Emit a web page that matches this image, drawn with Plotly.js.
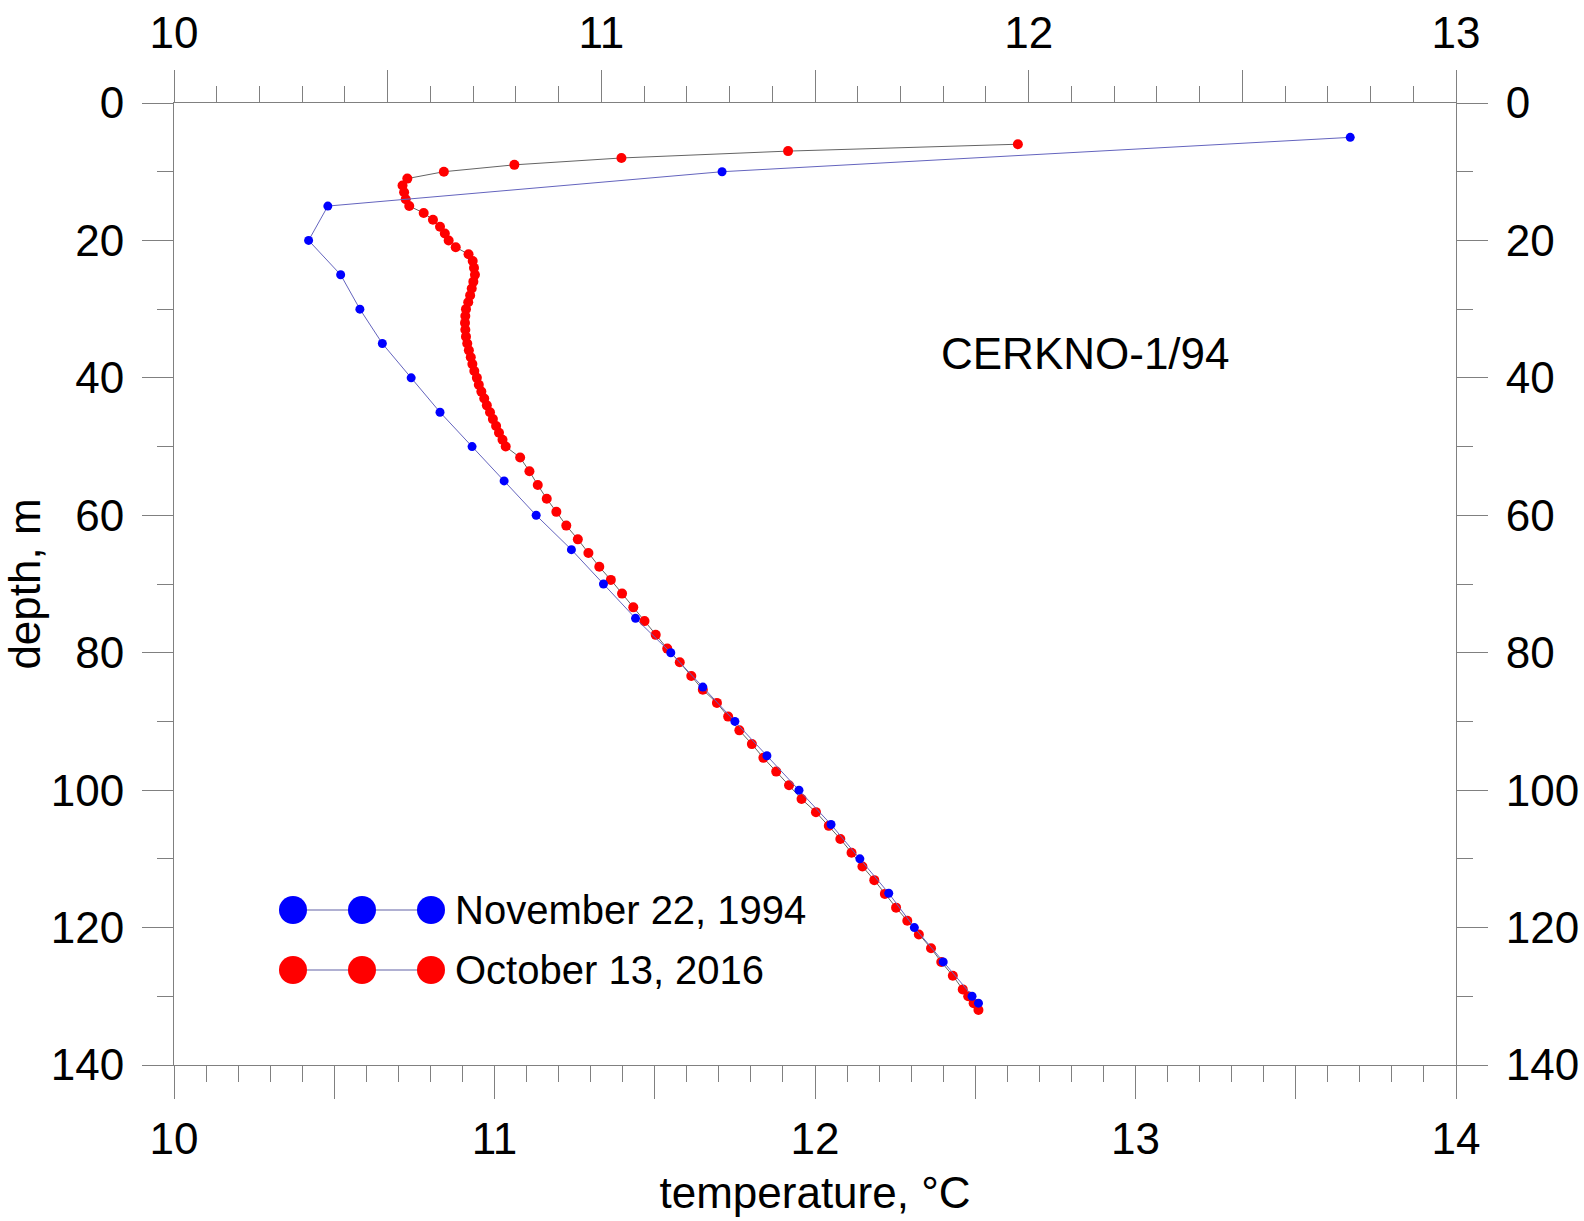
<!DOCTYPE html>
<html>
<head>
<meta charset="utf-8">
<script src="https://cdn.plot.ly/plotly-3.0.1.min.js"></script>
<style>html,body{margin:0;padding:0;background:#fff;}#chart{width:1584px;height:1221px;}</style>
</head>
<body>
<div id="chart"></div>
<script>
// ---- Data: November 22, 1994 ----
const depth1994 = [5,10,15,20,25,30,35,40,45,50,55,60,65,70,75,80,85,90,95,100,105,110,115,120,125,130,131];
const temp1994  = [13.67,11.71,10.48,10.42,10.52,10.58,10.65,10.74,10.83,10.93,11.03,11.13,11.24,11.34,11.44,11.55,11.65,11.75,11.85,11.95,12.05,12.14,12.23,12.31,12.40,12.49,12.51];

// ---- Data: October 13, 2016 ----
const depth2016 = [6,7,8,9,10,11,12,13,14,15,16,17,18,19,20,21,22,23,24,25,26,27,28,29,30,31,32,33,34,35,36,37,38,39,40,41,42,43,44,45,46,47,48,49,50,
  51.6,53.6,55.6,57.6,59.5,61.5,63.5,65.5,67.5,69.4,71.4,73.4,75.4,77.4,79.4,81.4,83.4,85.4,87.3,89.3,91.3,93.3,95.3,97.3,99.3,101.3,103.2,105.2,107.1,109.1,111.1,113.1,115.1,117.1,119,121,123,125,127,129,130,131,132];
const temp2016  = [12.633,11.916,11.396,11.062,10.842,10.728,10.713,10.718,10.723,10.734,10.779,10.808,10.830,10.845,10.857,10.879,10.919,10.932,10.936,10.939,10.934,10.929,10.924,10.918,10.911,10.909,10.908,10.909,10.911,10.915,10.920,10.926,10.931,10.937,10.945,10.951,10.959,10.968,10.976,10.986,10.995,11.005,11.014,11.025,11.035,
  11.080,11.109,11.135,11.163,11.193,11.224,11.260,11.293,11.327,11.363,11.398,11.433,11.468,11.503,11.539,11.578,11.614,11.650,11.694,11.729,11.764,11.803,11.839,11.879,11.919,11.958,12.003,12.043,12.079,12.114,12.148,12.185,12.218,12.253,12.288,12.324,12.362,12.394,12.430,12.461,12.478,12.495,12.510];

// ---- Axis ticks ----
const bottomTickVals = [10,10.5,11,11.5,12,12.5,13,13.5,14];
const bottomTickText = ['10','','11','','12','','13','','14'];
const topTickVals = [10,10.5,11,11.5,12,12.5,13];
const topTickText = ['10','','11','','12','','13'];
const depthTickVals = [0,20,40,60,80,100,120,140];

const seriesNames = ['November 22, 1994','October 13, 2016'];
const stationLabel = 'CERKNO-1/94';

// ---- Layout geometry ----
const W = 1584, H = 1221;
const M = {l:174, r:128, t:103, b:156};
const PW = W - M.l - M.r, PH = H - M.t - M.b;
const px = x => (x - M.l) / PW;
const py = y => 1 - (y - M.t) / PH;

const FONT = '"Liberation Sans", Arial, sans-serif';
const AX = 'rgb(128,128,128)';

const traces = [
  {
    x: temp2016, y: depth2016, name: seriesNames[1], type: 'scatter', mode: 'lines+markers',
    line: {color: 'rgb(100,100,100)', width: 1},
    marker: {color: 'rgb(255,0,0)', size: 10},
    showlegend: false
  },
  {
    x: temp1994, y: depth1994, name: seriesNames[0], type: 'scatter', mode: 'lines+markers',
    line: {color: 'rgb(100,100,190)', width: 1},
    marker: {color: 'rgb(0,0,255)', size: 9},
    showlegend: false
  },
  {
    x: [null], y: [null], xaxis: 'x2', yaxis: 'y2', type: 'scatter', mode: 'markers',
    showlegend: false, hoverinfo: 'skip'
  }
];

const commonAxis = {
  showline: true, linecolor: AX, linewidth: 1,
  showgrid: false, zeroline: false,
  ticks: 'outside', tickcolor: AX, tickwidth: 1,
  tickfont: {family: FONT, size: 44, color: '#000'},
  fixedrange: true
};

// legend drawn as shapes + annotations
const legendRows = [
  {y: 910, color: 'rgb(0,0,255)', text: seriesNames[0]},
  {y: 970, color: 'rgb(255,0,0)', text: seriesNames[1]}
];
const legendXs = [293, 362, 431];
const shapes = [];
const annotations = [];
legendRows.forEach(r => {
  shapes.push({type: 'line', xref: 'paper', yref: 'paper', x0: px(legendXs[0]), x1: px(legendXs[2]), y0: py(r.y), y1: py(r.y),
    line: {color: 'rgb(150,150,195)', width: 1.5}});
  legendXs.forEach(lx => {
    shapes.push({type: 'circle', xref: 'paper', yref: 'paper', xsizemode: 'pixel', ysizemode: 'pixel',
      xanchor: px(lx), yanchor: py(r.y), x0: -14, x1: 14, y0: -14, y1: 14,
      fillcolor: r.color, line: {width: 0}});
  });
  annotations.push({xref: 'paper', yref: 'paper', x: px(453), y: py(r.y), xanchor: 'left', yanchor: 'middle',
    text: r.text, showarrow: false, font: {family: FONT, size: 40, color: '#000'}});
});
annotations.push({xref: 'paper', yref: 'paper', x: px(1085), y: py(354), xanchor: 'center', yanchor: 'middle',
  text: stationLabel, showarrow: false, font: {family: FONT, size: 44, color: '#000'}});

const layout = {
  width: W, height: H,
  margin: M,
  paper_bgcolor: '#fff', plot_bgcolor: '#fff',
  font: {family: FONT, color: '#000'},
  showlegend: false,
  xaxis: Object.assign({}, commonAxis, {
    range: [10, 14], side: 'bottom', anchor: 'y',
    tickmode: 'array', tickvals: bottomTickVals, ticktext: bottomTickText,
    ticklen: 33, ticklabelstandoff: 2,
    minor: {tickmode: 'linear', tick0: 10, dtick: 0.1, ticks: 'outside', ticklen: 16, tickcolor: AX, tickwidth: 1, showgrid: false},
    title: {text: 'temperature, °C', font: {family: FONT, size: 44, color: '#000'}, standoff: 15}
  }),
  xaxis2: Object.assign({}, commonAxis, {
    range: [10, 13], side: 'top', overlaying: 'x', anchor: 'y',
    tickmode: 'array', tickvals: topTickVals, ticktext: topTickText,
    ticklen: 32, ticklabelstandoff: 4,
    minor: {tickmode: 'linear', tick0: 10, dtick: 0.1, ticks: 'outside', ticklen: 16, tickcolor: AX, tickwidth: 1, showgrid: false}
  }),
  yaxis: Object.assign({}, commonAxis, {
    range: [140, 0], side: 'left', anchor: 'x',
    tickmode: 'array', tickvals: depthTickVals,
    ticklen: 31, ticklabelstandoff: 9,
    minor: {tickmode: 'linear', tick0: 0, dtick: 10, ticks: 'outside', ticklen: 16, tickcolor: AX, tickwidth: 1, showgrid: false},
    title: {text: 'depth, m', font: {family: FONT, size: 44, color: '#000'}, standoff: 0}
  }),
  yaxis2: Object.assign({}, commonAxis, {
    range: [140, 0], side: 'right', overlaying: 'y', anchor: 'x',
    tickmode: 'array', tickvals: depthTickVals,
    ticklen: 31, ticklabelstandoff: 9,
    minor: {tickmode: 'linear', tick0: 0, dtick: 10, ticks: 'outside', ticklen: 16, tickcolor: AX, tickwidth: 1, showgrid: false}
  }),
  shapes: shapes,
  annotations: annotations
};

Plotly.newPlot('chart', traces, layout, {displayModeBar: false, staticPlot: true});
</script>
</body>
</html>
